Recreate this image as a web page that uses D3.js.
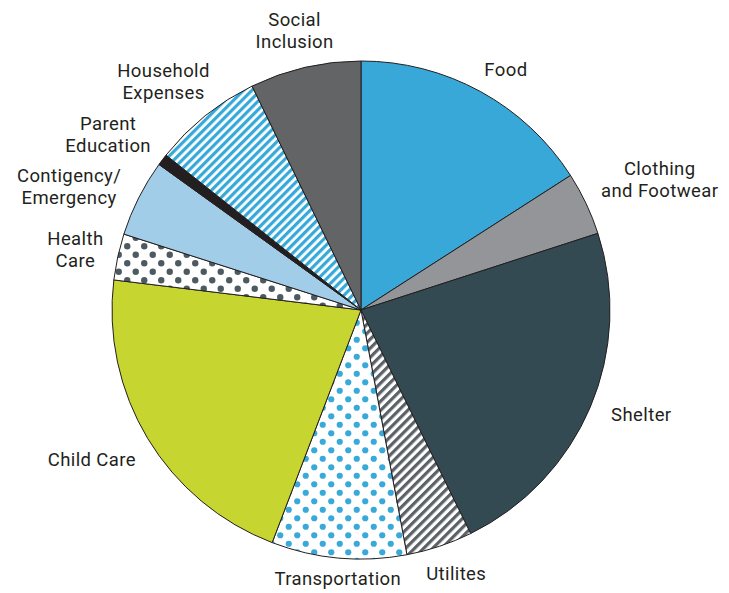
<!DOCTYPE html>
<html lang="en">
<head>
  <meta charset="UTF-8">
  <script src="https://d3js.org/d3.v7.min.js"></script>
  <style>
    body { margin: 0; background: #fff; }
    text { font-family: Roboto, "Noto Sans", sans-serif; font-size: 18.5px; letter-spacing: 0.4px; fill: #231f20; }
  </style>
</head>
<body>
  <div id="chart"></div>
  <script>
    // budget shares, clockwise from 12 o'clock (percent)
    const categories = ["Food", "Clothing\nand Footwear", "Shelter", "Utilites", "Transportation",
      "Child Care", "Health\nCare", "Contigency/\nEmergency", "Parent\nEducation",
      "Household\nExpenses", "Social\nInclusion"];
    const shares = [15.9, 4.1, 22.7, 4.3, 8.75, 21.1, 3.0, 5.0, 0.75, 7.1, 7.2];
    const fills = ["#37a8d7", "#939598", "#344a53", "url(#stripeGray)", "url(#dotBlue)",
      "#c6d530", "url(#dotGray)", "#a2cde9", "#231f20", "url(#stripeBlue)", "#636466"];

    // label layout: distance past the rim and small turn off the slice middle (degrees)
    const labelOut = [32, 77, 50, 31, 21, 59, 43, 68, 59, 53, 38];
    const labelTurn = [2.4, 1.7, -2.6, -1.5, -0.2, 2.0, -0.3, -3.8, -2.3, -2.1, -0.4];

    const w = 729, h = 593;
    const cx = 361, cy = 310, r = 249;

    const svg = d3.select("#chart").append("svg")
      .attr("width", w)
      .attr("height", h);

    const defs = svg.append("defs");

    function stripes(id, color, period, band) {
      const p = defs.append("pattern")
        .attr("id", id)
        .attr("patternUnits", "userSpaceOnUse")
        .attr("width", period)
        .attr("height", 10)
        .attr("patternTransform", "rotate(45)");
      p.append("rect").attr("width", period).attr("height", 10).attr("fill", "#fff");
      p.append("rect").attr("width", band).attr("height", 10).attr("fill", color);
    }
    function dots(id, color, step, rad) {
      const p = defs.append("pattern")
        .attr("id", id)
        .attr("patternUnits", "userSpaceOnUse")
        .attr("width", step)
        .attr("height", step);
      p.append("rect").attr("width", step).attr("height", step).attr("fill", "#fff");
      p.append("circle").attr("cx", step / 4).attr("cy", step / 4).attr("r", rad).attr("fill", color);
      p.append("circle").attr("cx", step * 3 / 4).attr("cy", step * 3 / 4).attr("r", rad).attr("fill", color);
    }
    stripes("stripeBlue", "#36a9d8", 6, 3.2);
    stripes("stripeGray", "#5b6166", 6.4, 3.2);
    dots("dotBlue", "#38a9d9", 17, 3.1);
    dots("dotGray", "#4e5a61", 17, 3.2);

    const pie = d3.pie().sort(null).value(d => d)(shares);
    const arc = d3.arc().innerRadius(0).outerRadius(r);

    const g = svg.append("g").attr("transform", `translate(${cx},${cy})`);

    g.selectAll("path")
      .data(pie)
      .enter()
      .append("path")
      .attr("d", arc)
      .attr("fill", (d, i) => fills[i])
      .attr("stroke", "#231f20")
      .attr("stroke-width", 1)
      .attr("stroke-linejoin", "round");

    const lineH = 22;
    const labels = g.selectAll("g.label")
      .data(pie)
      .enter()
      .append("g")
      .attr("class", "label")
      .attr("transform", (d, i) => {
        const a = (d.startAngle + d.endAngle) / 2 + labelTurn[i] * Math.PI / 180;
        const R = r + labelOut[i];
        return `translate(${R * Math.sin(a)},${-R * Math.cos(a)})`;
      });

    labels.each(function (d, i) {
      const lines = categories[i].split("\n");
      const t = d3.select(this).append("text").attr("text-anchor", "middle");
      lines.forEach((s, k) => {
        t.append("tspan")
          .attr("x", 0)
          .attr("y", (k - (lines.length - 1) / 2) * lineH)
          .attr("dy", "0.35em")
          .text(s);
      });
    });
  </script>
</body>
</html>
